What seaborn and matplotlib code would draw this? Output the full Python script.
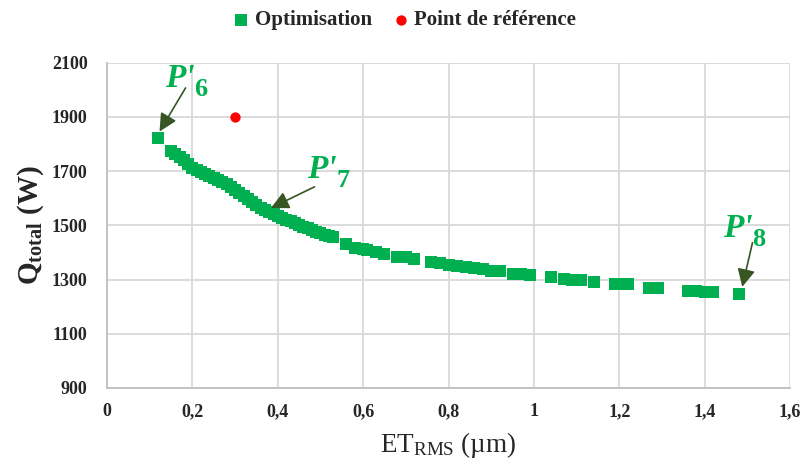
import matplotlib
matplotlib.use("Agg")
import matplotlib.pyplot as plt
import seaborn as sns
import pandas as pd

et_rms = [0.12, 0.15, 0.16, 0.17, 0.18, 0.19, 0.20, 0.21, 0.22, 0.23, 0.24, 0.25,
          0.26, 0.27, 0.28, 0.29, 0.30, 0.31, 0.32, 0.33, 0.34, 0.35, 0.36, 0.37,
          0.38, 0.39, 0.40, 0.41, 0.42, 0.43, 0.44, 0.45, 0.46, 0.47, 0.48, 0.49,
          0.50, 0.51, 0.52, 0.53, 0.56, 0.58, 0.60, 0.61, 0.63, 0.65, 0.68, 0.70,
          0.72, 0.76, 0.78, 0.80, 0.82, 0.84, 0.86, 0.88, 0.90, 0.92, 0.95, 0.97,
          0.99, 1.04, 1.07, 1.09, 1.11, 1.14, 1.19, 1.21, 1.22, 1.27, 1.29, 1.36,
          1.38, 1.40, 1.42, 1.48]
q_total = [1822, 1775, 1765, 1752, 1740, 1725, 1712, 1705, 1698, 1690, 1682, 1675,
           1668, 1660, 1652, 1642, 1632, 1620, 1610, 1598, 1585, 1575, 1565, 1555,
           1548, 1540, 1535, 1528, 1520, 1515, 1508, 1502, 1495, 1490, 1482, 1477,
           1470, 1466, 1462, 1458, 1432, 1418, 1412, 1408, 1400, 1395, 1385, 1382,
           1375, 1365, 1360, 1355, 1350, 1347, 1342, 1338, 1333, 1330, 1322, 1320,
           1317, 1308, 1303, 1300, 1297, 1292, 1285, 1283, 1282, 1270, 1268, 1258,
           1257, 1255, 1254, 1245]
ref_x = [0.30]
ref_y = [1900]

x_ticks = [0, 0.2, 0.4, 0.6, 0.8, 1.0, 1.2, 1.4, 1.6]
x_tick_labels = ["0", "0,2", "0,4", "0,6", "0,8", "1", "1,2", "1,4", "1,6"]
y_ticks = [900, 1100, 1300, 1500, 1700, 1900, 2100]

labels = ["Optimisation", "Point de référence"]
ann_labels = ["6", "7", "8"]
ann_tip = [(0.123, 1846), (0.384, 1564), (1.488, 1273)]
ann_start = [(0.184, 2007), (0.486, 1642), (1.512, 1436)]
ann_text = [(0.17, 2042), (0.503, 1707), (1.478, 1487)]

sns.set_theme(style="white")
plt.rcParams["font.family"] = ["Liberation Serif", "DejaVu Serif"]
plt.rcParams["mathtext.fontset"] = "custom"
plt.rcParams["mathtext.rm"] = "Liberation Serif"
plt.rcParams["mathtext.it"] = "Liberation Serif:italic"
plt.rcParams["mathtext.bf"] = "Liberation Serif:bold"

GREEN = "#00B050"
RED = "#FF0000"
DARK = "#375623"

fig = plt.figure(figsize=(8.07, 4.70), dpi=100)
ax = fig.add_axes([0.1326, 0.1745, 0.979 - 0.1326, 0.8666 - 0.1745])

opt = pd.DataFrame({"x": et_rms, "y": q_total})
ref = pd.DataFrame({"x": ref_x, "y": ref_y})
sns.scatterplot(data=opt, x="x", y="y", ax=ax, marker="s", s=70, color=GREEN,
                linewidth=0, label=labels[0], zorder=3)
sns.scatterplot(data=ref, x="x", y="y", ax=ax, marker="o", s=55, color=RED,
                linewidth=0, label=labels[1], zorder=3)

ax.set_xlim(0, 1.6)
ax.set_ylim(900, 2100)
ax.set_xticks(x_ticks)
ax.set_xticklabels(x_tick_labels)
ax.set_yticks(y_ticks)
ax.grid(True, color="#D9D9D9", linewidth=1.3)
ax.set_axisbelow(True)
for s in ["top", "right"]:
    ax.spines[s].set_visible(False)
for s in ["left", "bottom"]:
    ax.spines[s].set_color("#BFBFBF")
    ax.spines[s].set_linewidth(1.3)
ax.tick_params(axis="both", length=0, labelsize=13, colors="#262626")
ax.tick_params(axis="y", pad=14)
ax.tick_params(axis="x", pad=11)
for lab in ax.get_xticklabels() + ax.get_yticklabels():
    lab.set_fontweight("bold")

ax.set_xlabel(r"ET$_{\mathrm{RMS}}$ (µm)", fontsize=19.5, color="#262626", labelpad=7)
ax.set_ylabel(r"Q$_{\mathbf{total}}$ (W)", fontsize=21, fontweight="bold",
              color="#262626", labelpad=4)

for lbl, tip, start, txt in zip(ann_labels, ann_tip, ann_start, ann_text):
    ax.annotate("", xy=tip, xytext=start,
                arrowprops=dict(arrowstyle="-|>,head_length=0.9,head_width=0.45",
                                color=DARK, lw=1.2, shrinkA=0, shrinkB=0))
    ax.text(txt[0], txt[1], "P'", color=GREEN, fontsize=24, fontweight="bold",
            fontstyle="italic", ha="center", va="center")
    ax.annotate(lbl, xy=txt, xycoords="data", xytext=(15, -8),
                textcoords="offset points", color=GREEN, fontsize=19,
                fontweight="bold", ha="center", va="center")

ax.get_legend().remove()
handles, hl = ax.get_legend_handles_labels()
leg = fig.legend(handles, hl, loc="upper center", bbox_to_anchor=(0.5, 1.018), ncol=2,
                 frameon=False, prop={"size": 15, "weight": "bold"},
                 handlelength=1.0, handletextpad=0.15, columnspacing=0.9,
                 markerscale=1.0)
for t in leg.get_texts():
    t.set_color("#262626")

fig.savefig("out.png", dpi=100)
